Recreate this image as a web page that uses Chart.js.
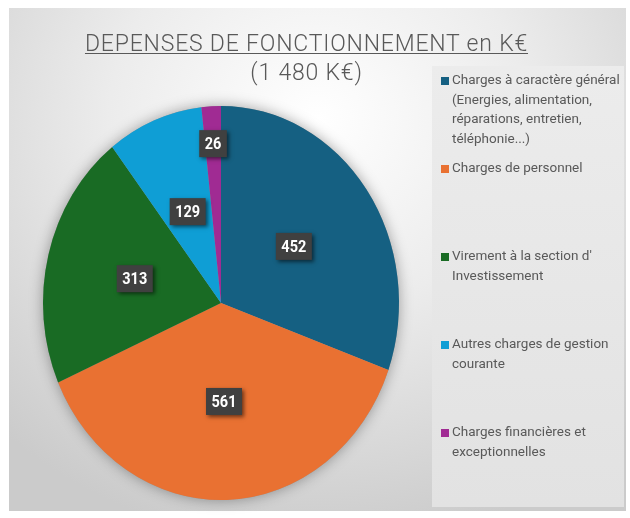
<!DOCTYPE html>
<html>
<head>
<meta charset="utf-8">
<script src="https://cdn.jsdelivr.net/npm/chart.js@4.4.1/dist/chart.umd.min.js"></script>
<style>
    html, body { margin: 0; padding: 0; background: #fff; }
    #wrap { position: relative; width: 630px; height: 518px; overflow: hidden; }
    #bg {
        position: absolute; left: 9px; top: 8px; width: 617px; height: 503px;
        background: radial-gradient(ellipse 75% 85% at 50% 22%, #ffffff 0%, #ececec 45%, #cbcbcb 100%);
    }
    #legend-box {
        position: absolute; left: 432px; top: 66px; width: 192px; height: 441px;
        background: linear-gradient(180deg, #ececec 0%, #e2e2e2 100%);
    }
    canvas { position: absolute; left: 0; top: 0; }
    #title {
        position: absolute; left: 0; width: 613px; top: 29px; text-align: center;
        font-family: Roboto, sans-serif; font-weight: 300; font-size: 23px; color: #595959;
        line-height: 29px; letter-spacing: 0.8px;
    }
    #title .main { text-decoration: underline; text-decoration-thickness: 1px; text-underline-offset: 2px; }
    #legend { position: absolute; left: 441px; top: 70px; margin: 0; padding: 0; list-style: none; }
    #legend li {
        position: relative; height: 88px; padding-left: 11px;
        font-family: Roboto, sans-serif;
        font-size: 13.5px; line-height: 19.5px; color: #595959; white-space: nowrap;
    }
    #legend li span.sw { position: absolute; left: 0; top: 7px; width: 8px; height: 8px; }
</style>
</head>
<body>
<div id="wrap">
    <div id="bg"></div>
    <div id="legend-box"></div>
    <canvas id="chart-depenses" width="630" height="518"></canvas>
    <div id="title"><span class="main">DEPENSES DE FONCTIONNEMENT en K€</span><br>(1 480 K€)</div>
    <ul id="legend"></ul>
</div>
<script>
const categories = [
    ['Charges à caractère général', '(Energies, alimentation,', 'réparations, entretien,', 'téléphonie...)'],
    ['Charges de personnel'],
    ["Virement à la section d'", 'Investissement'],
    ['Autres charges de gestion', 'courante'],
    ['Charges financières et', 'exceptionnelles']
];
const values = [452, 561, 313, 129, 26];
const colors = ['#156082', '#E97132', '#196B24', '#0F9ED5', '#A02B93'];

// excel draws the pie slightly taller than wide
const SCALE_Y = 1.107;

const ellipsePlugin = {
    id: 'ellipse',
    beforeDatasetsDraw(chart) {
        const ctx = chart.ctx;
        const arc = chart.getDatasetMeta(0).data[0];
        ctx.save();
        ctx.beginPath();
        ctx.ellipse(arc.x, arc.y, arc.outerRadius, arc.outerRadius * SCALE_Y, 0, 0, Math.PI * 2);
        ctx.shadowColor = 'rgba(0,0,0,0.35)';
        ctx.shadowBlur = 14;
        ctx.fillStyle = '#999';
        ctx.fill();
        ctx.restore();

        ctx.save();
        ctx.translate(arc.x, arc.y);
        ctx.scale(1, SCALE_Y);
        ctx.translate(-arc.x, -arc.y);
    },
    afterDatasetsDraw(chart) {
        const ctx = chart.ctx;
        ctx.restore();

        const total = values.reduce((s, v) => s + v, 0);
        chart.getDatasetMeta(0).data.forEach((a, i) => {
            const mid = (a.startAngle + a.endAngle) / 2;
            const frac = values[i] / total < 0.05 ? 0.81 : 0.5;
            const x = a.x + Math.cos(mid) * a.outerRadius * frac;
            const y = a.y + Math.sin(mid) * a.outerRadius * frac * SCALE_Y;
            const txt = String(values[i]);

            ctx.save();
            ctx.font = 'bold 16.5px Roboto, sans-serif';
            const tw = ctx.measureText(txt).width * 0.88;
            const w = tw + 11;
            const h = 27;
            ctx.shadowColor = 'rgba(0,0,0,0.55)';
            ctx.shadowBlur = 4;
            ctx.shadowOffsetX = 2;
            ctx.shadowOffsetY = 2;
            ctx.fillStyle = '#404040';
            ctx.fillRect(x - w / 2, y - h / 2, w, h);
            ctx.shadowColor = 'transparent';
            ctx.fillStyle = '#ffffff';
            ctx.textAlign = 'center';
            ctx.textBaseline = 'middle';
            ctx.translate(x, y + 1);
            ctx.scale(0.88, 1);
            ctx.fillText(txt, 0, 0);
            ctx.restore();
        });
    }
};

const chart = new Chart(document.getElementById('chart-depenses'), {
    type: 'pie',
    data: {
        labels: categories,
        datasets: [{
            data: values,
            backgroundColor: colors,
            borderWidth: 0
        }]
    },
    options: {
        responsive: false,
        animation: false,
        layout: { padding: { left: 43, right: 231, top: 125, bottom: 37 } },
        plugins: {
            legend: { display: false },
            tooltip: { enabled: false }
        }
    },
    plugins: [ellipsePlugin]
});

const legend = document.getElementById('legend');
chart.data.labels.forEach((lines, i) => {
    const li = document.createElement('li');
    const sw = document.createElement('span');
    sw.className = 'sw';
    sw.style.background = chart.data.datasets[0].backgroundColor[i];
    li.appendChild(sw);
    li.innerHTML += lines.join('<br>');
    legend.appendChild(li);
});
</script>
</body>
</html>
